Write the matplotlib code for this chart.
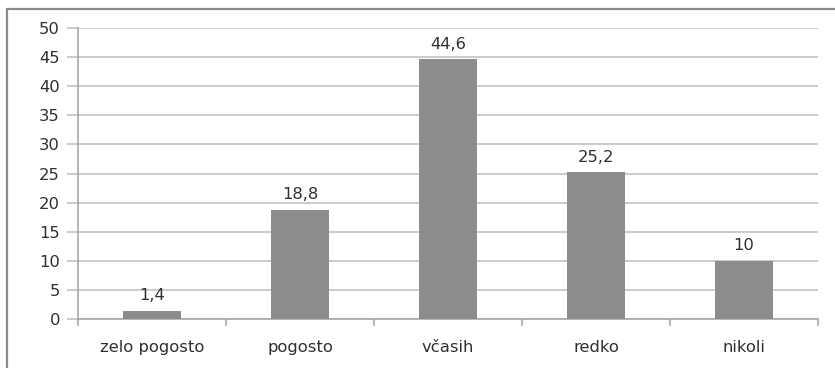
import numpy as np
import matplotlib.pyplot as plt
from matplotlib.patches import Rectangle

categories = ["zelo pogosto", "pogosto", "včasih", "redko", "nikoli"]
values = [1.4, 18.8, 44.6, 25.2, 10]
labels = ["1,4", "18,8", "44,6", "25,2", "10"]

plt.rcParams['font.family'] = ['DejaVu Sans']
FS = 11.8
TXT = '#303030'

W, H = 835, 368
fig = plt.figure(figsize=(W / 100, H / 100), dpi=100)
fig.patch.set_facecolor('white')

# outer chart frame (only left and top edges visible in the crop)
fig.add_artist(Rectangle((7 / W, -0.1), 1.2, (H - 9) / H + 0.1, transform=fig.transFigure,
                         fill=False, edgecolor='#8a8a8a', linewidth=1.6))

ax = fig.add_axes([78 / W, (H - 319) / H, (818 - 78) / W, (319 - 28) / H])
x = np.arange(len(categories))
ax.bar(x, values, width=0.39, color='#8c8c8c', zorder=3)

for xi, v, lab in zip(x, values, labels):
    ax.text(xi, v + 1.3, lab, ha='center', va='bottom', fontsize=FS, color=TXT)

ax.set_xlim(-0.5, len(categories) - 0.5)
ax.set_ylim(0, 50)
ax.set_yticks(np.arange(0, 51, 5))
ax.yaxis.grid(True, color='#bdbdbd', linewidth=1.1, zorder=0)
ax.set_axisbelow(True)

ax.set_xticks(x)
ax.set_xticklabels(categories)
ax.set_xticks(np.arange(-0.5, len(categories), 1), minor=True)
ax.tick_params(axis='x', which='major', length=0, pad=15, labelsize=FS, labelcolor=TXT)
ax.tick_params(axis='x', which='minor', length=5, color='#a0a0a0', width=1.1)
ax.tick_params(axis='y', length=8, color='#bdbdbd', width=1.1, pad=5, labelsize=FS,
               labelcolor=TXT)

for s in ['top', 'right']:
    ax.spines[s].set_visible(False)
ax.spines['left'].set_color('#a0a0a0')
ax.spines['bottom'].set_color('#a0a0a0')
ax.spines['left'].set_linewidth(1.1)
ax.spines['bottom'].set_linewidth(1.1)

fig.savefig('out.png', dpi=100)
